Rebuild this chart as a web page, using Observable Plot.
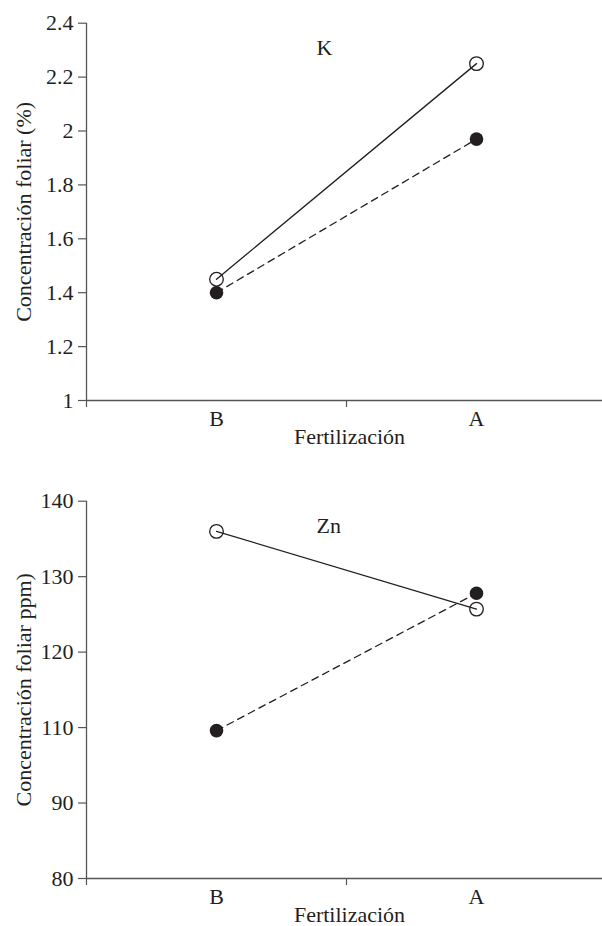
<!DOCTYPE html>
<html>
<head>
<meta charset="utf-8">
<script src="https://cdn.jsdelivr.net/npm/d3@7"></script>
<script src="https://cdn.jsdelivr.net/npm/@observablehq/plot@0.6"></script>
<style>
  html, body { margin: 0; padding: 0; background: #fff; overflow: hidden; }
  #chart svg { display: block; font-family: "Liberation Serif", "Times New Roman", serif !important; font-size: 22px !important; }
  #chart svg text { font-family: "Liberation Serif", "Times New Roman", serif !important; font-size: 22px !important; }
</style>
</head>
<body>
<div id="chart"></div>
<script>
// ---- Data ----
const fertilizacion = ["B", "A"];           // x categories
const kSerieAbierta = [1.45, 2.25];         // K, open circles, solid line
const kSerieLlena = [1.40, 1.97];           // K, filled circles, dashed line
const znSerieAbierta = [136, 125.7];        // Zn, open circles, solid line
const znSerieLlena = [109.2, 127.8];        // Zn, filled circles, dashed line
const kTicks = [1, 1.2, 1.4, 1.6, 1.8, 2, 2.2, 2.4];
const znTicks = [80, 90, 110, 120, 130, 140]; // evenly spaced on the original axis (no 100)
const znBreaks = [80, 90, 110, 140];          // knots of the original (piecewise) axis
const xLabel = "Fertilización";
const kYLabel = "Concentración foliar (%)";
const znYLabel = "Concentración foliar ppm)";

const ink = "#231f20";
const axisInk = "#555";
const W = 602;

function rowsOf(values) {
  return fertilizacion.map((f, i) => ({f, v: values[i]}));
}
const xPos = d => fertilizacion.indexOf(d.f) + 0.5;

function panel({nutrient, open, filled, ticks, yMap, yLabel, height, marginBottom}) {
  const marginTop = 22.7;
  const openRows = rowsOf(open);
  const filledRows = rowsOf(filled);
  const tickPos = ticks.map(yMap);
  const yPos = d => yMap(d.v);
  const fmt = t => String(ticks[d3.minIndex(tickPos, p => Math.abs(p - t))]);
  return Plot.plot({
    width: W,
    height,
    marginTop,
    marginBottom,
    marginLeft: 86,
    marginRight: 0,
    x: {domain: [0, fertilizacion.length], range: [86, 606], label: null},
    y: {domain: [tickPos[0], tickPos[tickPos.length - 1]], label: null},
    style: {color: ink, background: "#fff"},
    marks: [
      Plot.ruleY([tickPos[0]], {stroke: axisInk, strokeWidth: 1.3}),
      Plot.ruleX([0], {stroke: axisInk, strokeWidth: 1.3}),
      Plot.axisY({ticks: tickPos, tickSize: 8, tickPadding: 5, stroke: axisInk, strokeWidth: 1.2, label: null, tickFormat: fmt}),
      Plot.axisX({ticks: [0, 1], tickSize: 7, stroke: axisInk, strokeWidth: 1.2, label: null, tickFormat: () => ""}),
      Plot.axisX({ticks: fertilizacion.map((f, i) => i + 0.5), tickSize: 0, tickPadding: 10, label: null,
        tickFormat: t => fertilizacion[Math.floor(t)]}),
      Plot.line(openRows, {x: xPos, y: yPos, stroke: ink, strokeWidth: 1.3}),
      Plot.line(filledRows, {x: xPos, y: yPos, stroke: ink, strokeWidth: 1.3, strokeDasharray: "7,5"}),
      Plot.dot(filledRows, {x: xPos, y: yPos, r: 6.8, fill: ink, stroke: "none"}),
      Plot.dot(openRows, {x: xPos, y: yPos, r: 6.8, fill: "none", stroke: ink, strokeWidth: 1.3}),
      Plot.text([nutrient], {text: d => d, frameAnchor: "top", textAnchor: "start", dx: -28, dy: 25, lineAnchor: "middle", fill: ink}),
      Plot.text([xLabel], {text: d => d, frameAnchor: "bottom", textAnchor: "middle", dx: 5, dy: 36, lineAnchor: "middle", fill: ink}),
      Plot.text([yLabel], {text: d => d, frameAnchor: "left", textAnchor: "middle", lineAnchor: "middle", rotate: -90, dx: -63, fill: ink})
    ]
  });
}

const chart = document.getElementById("chart");

chart.append(panel({
  nutrient: "K",
  open: kSerieAbierta,
  filled: kSerieLlena,
  ticks: kTicks,
  yMap: v => v,
  yLabel: kYLabel,
  height: 478,
  marginBottom: 78
}));

// Zn panel: the original axis spaces its labels evenly (80, 90, 110, 120, 130, 140),
// so values are mapped piecewise onto tick-slot units.
const znToSlot = d3.scaleLinear().domain(znBreaks).range(znBreaks.map(v => znTicks.indexOf(v)));
chart.append(panel({
  nutrient: "Zn",
  open: znSerieAbierta,
  filled: znSerieLlena,
  ticks: znTicks,
  yMap: znToSlot,
  yLabel: znYLabel,
  height: 448,
  marginBottom: 48
}));
</script>
</body>
</html>
